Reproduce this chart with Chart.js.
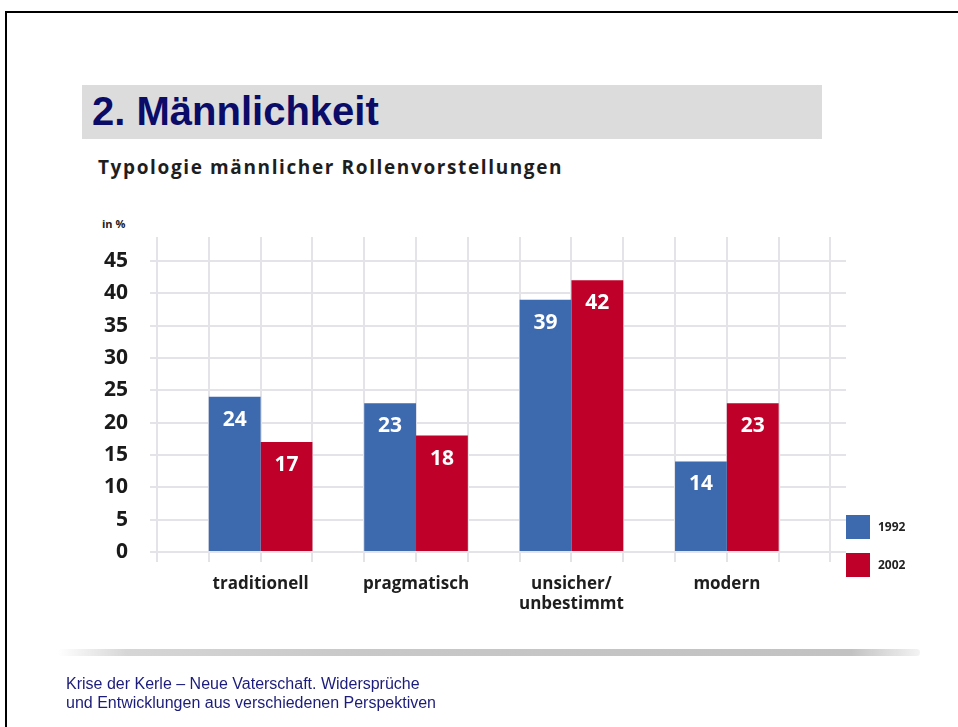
<!DOCTYPE html>
<html><head><meta charset="utf-8">
<script src="https://cdn.jsdelivr.net/npm/chart.js@4/dist/chart.umd.min.js"></script>
<style>
html,body{margin:0;padding:0;background:#fff;}
body{width:958px;height:727px;position:relative;overflow:hidden;font-family:"Open Sans",sans-serif;}
#frame{position:absolute;left:5px;top:11px;width:970px;height:730px;border-top:2px solid #000;border-left:2px solid #000;}
#titlebox{position:absolute;left:82px;top:85px;width:740px;height:54px;background:#dcdcdc;}
#title{position:absolute;left:92px;top:89px;height:54px;line-height:54px;font:bold 40px "Liberation Sans",Arial,sans-serif;color:#0b0b68;white-space:nowrap;}
#subtitle{position:absolute;left:98px;top:154px;line-height:26px;font-weight:700;font-size:19px;letter-spacing:1.62px;color:#1e1e1e;white-space:nowrap;}
#unit{position:absolute;left:102px;top:215px;line-height:18px;font-weight:700;font-size:11px;color:#222;white-space:nowrap;}
#chartwrap{position:absolute;left:0;top:0;width:958px;height:727px;}
#legend{position:absolute;left:846px;top:515px;}
.lg{position:absolute;left:0;width:140px;height:24px;}
.lg .sw{position:absolute;left:0;top:0;width:24px;height:24px;}
.lg .tx{position:absolute;left:32px;top:0;line-height:24px;font-weight:700;font-size:12px;color:#222;}
#sep{position:absolute;left:58px;top:649px;width:862px;height:7px;border-radius:4px;
 background:linear-gradient(to right,rgba(215,215,215,0),#d6d6d6 8%,#c8c8c8 35%,#c4c4c4 65%,#c2c2c2 92%,rgba(195,195,195,0.2));}
#footer{position:absolute;left:66px;top:674px;line-height:19px;font-family:"Liberation Sans",Arial,sans-serif;font-size:16px;color:#1c1c7a;white-space:nowrap;}
</style>
</head><body>
<div id="frame"></div>
<div id="titlebox"></div>
<div id="title">2. Männlichkeit</div>
<div id="subtitle">Typologie männlicher Rollenvorstellungen</div>
<div id="unit">in %</div>
<div id="chartwrap"><canvas id="c" width="958" height="727"></canvas></div>
<div id="legend"></div>
<div id="sep"></div>
<div id="footer">Krise der Kerle – Neue Vaterschaft. Widersprüche<br>und Entwicklungen aus verschiedenen Perspektiven</div>
<script>
// ---- data ----
const categories = ['traditionell', 'pragmatisch', ['unsicher/', 'unbestimmt'], 'modern'];
const seriesNames = ['1992', '2002'];
const values1992 = [24, 23, 39, 14];
const values2002 = [17, 18, 42, 23];
const yTickStep = 5;

// ---- style ----
const seriesColors = ['#3d69ae', '#bf0028'];
const gridColor = '#e3e3e8';

// each category occupies 3 grid cells; its two bars sit on the middle gridline
const centers = categories.map((_, i) => 2 + 3 * i);

const barLabels = {
  id: 'barLabels',
  afterDatasetsDraw(chart) {
    const ctx = chart.ctx;
    ctx.save();
    ctx.fillStyle = '#ffffff';
    ctx.font = 'bold 21px "Open Sans"';
    ctx.textAlign = 'center';
    ctx.textBaseline = 'middle';
    chart.data.datasets.forEach((ds, di) => {
      chart.getDatasetMeta(di).data.forEach((bar, i) => {
        ctx.fillText(String(ds.data[i]), bar.x, bar.y + 23);
      });
    });
    ctx.restore();
  }
};

// legend (real text)
const legend = document.getElementById('legend');
seriesNames.forEach((n, i) => {
  const d = document.createElement('div');
  d.className = 'lg';
  d.style.top = (i * 38) + 'px';
  d.innerHTML = '<div class="sw" style="background:' + seriesColors[i] + '"></div><div class="tx">' + n + '</div>';
  legend.appendChild(d);
});

new Chart(document.getElementById('c'), {
  type: 'bar',
  data: {
    labels: centers,
    datasets: [
      { label: seriesNames[0], data: values1992, backgroundColor: seriesColors[0] },
      { label: seriesNames[1], data: values2002, backgroundColor: seriesColors[1] }
    ]
  },
  options: {
    responsive: false,
    animation: false,
    events: [],
    layout: { padding: { left: 0, top: 237, right: 112, bottom: 0 } },
    plugins: { legend: { display: false }, tooltip: { enabled: false } },
    datasets: { bar: { categoryPercentage: 2, barPercentage: 1 } },
    scales: {
      x: {
        type: 'linear', min: 0, max: 13.3, offset: false,
        grid: { color: gridColor, lineWidth: 2, tickLength: 10, drawTicks: true, offset: false },
        border: { display: false },
        ticks: {
          stepSize: 1, includeBounds: false, autoSkip: false, maxRotation: 0, minRotation: 0,
          padding: 12, color: '#1e1e1e', font: { family: 'Open Sans', weight: 'bold', size: 17, lineHeight: 1.2 },
          callback: (v) => {
            const i = centers.findIndex(c => Math.abs(c - v) < 1e-6);
            return i >= 0 ? categories[i] : '';
          }
        },
        afterFit: (s) => { s.height = 175; }
      },
      y: {
        min: 0, max: 48.7,
        grid: { color: gridColor, lineWidth: 2, tickLength: 7, drawTicks: true },
        border: { display: false },
        ticks: { stepSize: yTickStep, includeBounds: false, padding: 22, color: '#1a1a1a',
                 font: { family: 'Open Sans', weight: 'bold', size: 21 } },
        afterFit: (s) => { s.width = 157; }
      }
    }
  },
  plugins: [barLabels]
});
</script>
</body></html>
